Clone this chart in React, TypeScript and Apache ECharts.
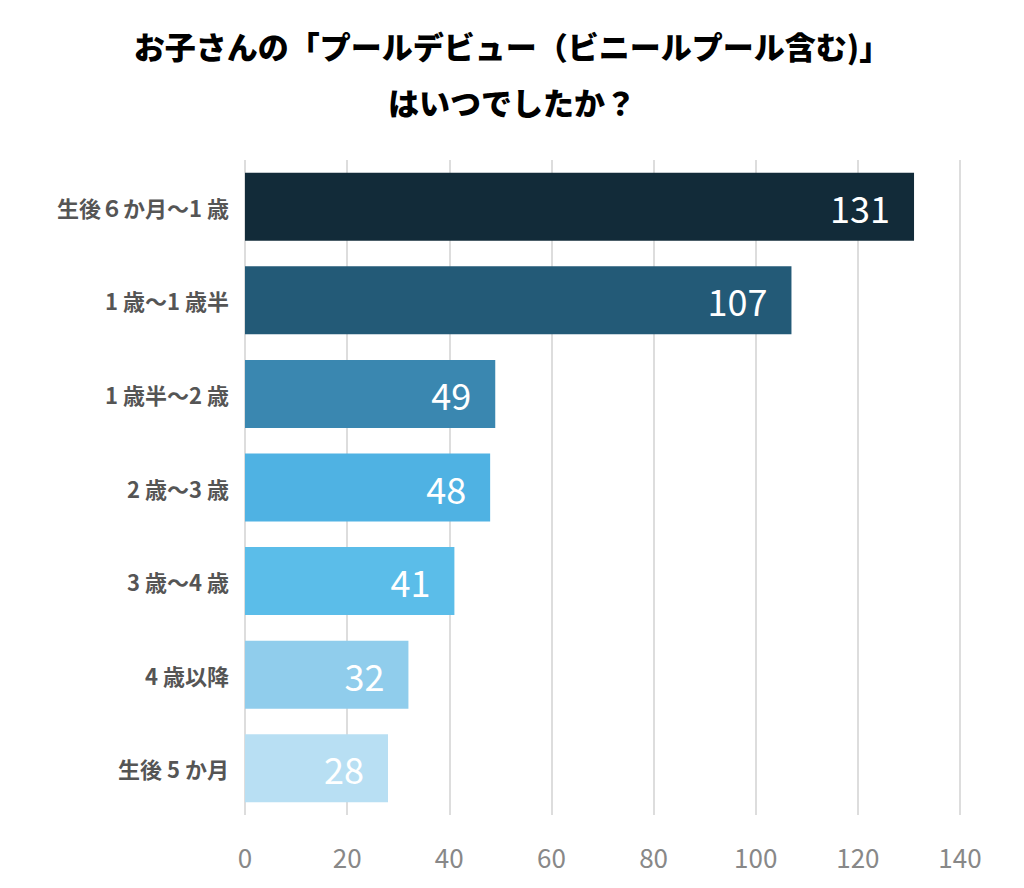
import { useEffect, useRef } from 'react';
import * as echarts from 'echarts';

const categories = ['生後６か月〜1 歳', '1 歳〜1 歳半', '1 歳半〜2 歳', '2 歳〜3 歳', '3 歳〜4 歳', '4 歳以降', '生後 5 か月'];
const values = [131, 107, 49, 48, 41, 32, 28];
const barColors = ['#122b39', '#235a77', '#3a87b0', '#4fb2e3', '#5bbde9', '#90cdec', '#b8dff3'];

export default function App() {
  const chartRef = useRef<HTMLDivElement>(null);

  useEffect(() => {
    if (!chartRef.current) return;
    const chart = echarts.init(chartRef.current, null, { renderer: 'svg' });
    const font = '"Noto Sans CJK JP", "Noto Sans", sans-serif';

    chart.setOption({
      animation: false,
      backgroundColor: '#ffffff',
      title: {
        text: 'お子さんの「プールデビュー（ビニールプール含む)」\nはいつでしたか？',
        left: 'center',
        top: 4,
        textStyle: { fontFamily: font, fontSize: 31, fontWeight: 900, color: '#000', lineHeight: 56 },
      },
      grid: { left: 237, right: 56, top: 152, bottom: 65 },
      xAxis: {
        type: 'value',
        min: 0,
        max: 140,
        interval: 20,
        axisLine: { show: false },
        axisTick: { show: false },
        axisLabel: { color: '#888', fontSize: 26, fontFamily: font, margin: 28 },
        splitLine: { lineStyle: { color: '#dddddd', width: 2 } },
      },
      yAxis: {
        type: 'category',
        data: categories,
        inverse: true,
        axisLine: { show: false },
        axisTick: { show: false },
        axisLabel: { color: '#555', fontSize: 22, fontWeight: 'bold', fontFamily: font, margin: 16 },
      },
      series: [
        {
          type: 'bar',
          barWidth: 68,
          data: values.map((v, i) => ({ value: v, itemStyle: { color: barColors[i] } })),
          label: {
            show: true,
            position: 'insideRight',
            distance: 24,
            color: '#ffffff',
            fontSize: 36,
            fontFamily: font,
          },
        },
      ],
    });

    return () => chart.dispose();
  }, []);

  return <div ref={chartRef} style={{ width: 1008, height: 872 }} />;
}
